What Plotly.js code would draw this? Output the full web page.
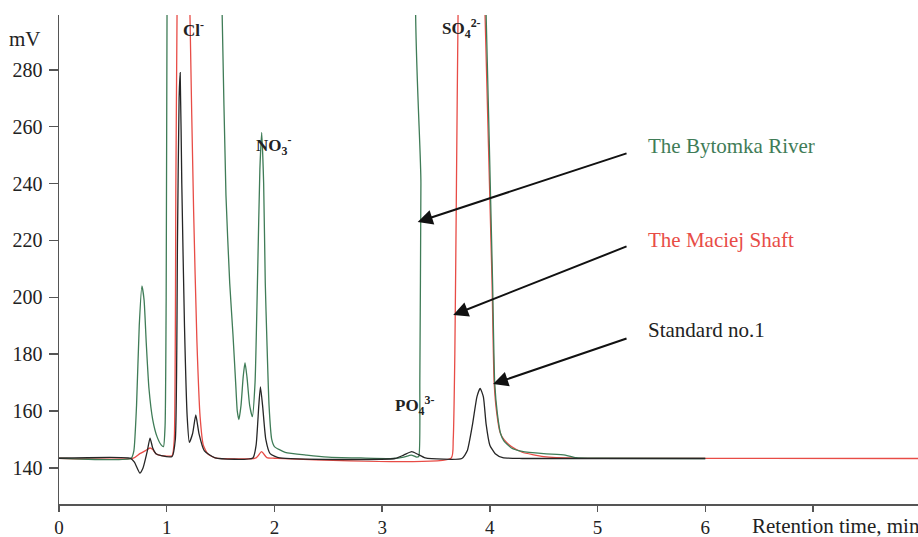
<!DOCTYPE html>
<html>
<head>
<meta charset="utf-8">
<script src="https://cdn.plot.ly/plotly-3.0.1.min.js"></script>
<style>html,body{margin:0;padding:0;background:#fff;}#chart{width:918px;height:537px;}</style>
</head>
<body>
<div id="chart"></div>
<script>
// Retention time (min) and signal (mV); values above the axis top are off-scale peaks
const riverTime = [0, 0.67, 0.695, 0.72, 0.745, 0.77, 0.79, 0.81, 0.835, 0.87, 0.91, 0.95, 0.97, 0.985, 0.995, 1.003, 1.01, 1.5, 1.515, 1.55, 1.585, 1.615, 1.64, 1.655, 1.67, 1.69, 1.71, 1.727, 1.745, 1.77, 1.795, 1.82, 1.845, 1.865, 1.882, 1.9, 1.915, 1.93, 1.95, 1.975, 2.0, 2.1, 2.3, 2.5, 2.8, 3.1, 3.2, 3.27, 3.32, 3.34, 3.35, 3.36, 3.37, 3.94, 3.965, 4.025, 4.045, 4.07, 4.1, 4.13, 4.2, 4.3, 4.5, 4.7, 4.8, 5.0, 6.0];
const riverMV   = [143.4, 143.4, 146, 162, 190, 204, 199, 184, 168, 157, 151, 148, 147.5, 155, 200, 300, 330, 330, 299, 236, 205, 187, 170, 160, 157, 162, 172, 177, 172, 162, 158, 170, 210, 245, 258, 240, 205, 185, 162, 150, 147.5, 145.5, 144.5, 143.8, 143.5, 143.3, 143.8, 144.5, 143.8, 144, 170, 240, 330, 330, 300, 206, 170, 159, 152, 149.5, 147, 145.8, 145, 144.5, 143.6, 143.4, 143.3];

const shaftTime = [0, 0.69, 0.75, 0.8, 0.845, 0.87, 0.9, 0.95, 1.05, 1.07, 1.085, 1.096, 1.105, 1.21, 1.216, 1.25, 1.28, 1.31, 1.34, 1.38, 1.45, 1.83, 1.88, 1.93, 2.0, 3.64, 3.66, 3.675, 3.69, 3.705, 3.72, 3.94, 3.955, 4.02, 4.04, 4.065, 4.095, 4.13, 4.2, 4.3, 4.5, 4.8, 7.975];
const shaftMV   = [143.4, 143.4, 145, 146, 147, 146.5, 145, 144.3, 144.3, 150, 240, 300, 330, 330, 299, 230, 185, 158, 148, 145, 143.5, 143.5, 145.7, 143.6, 143.4, 143.4, 150, 180, 240, 300, 330, 330, 300, 206, 170, 159, 152.5, 150, 147.5, 145.5, 144, 143.4, 143.3];

const standardTime = [0, 0.66, 0.7, 0.75, 0.78, 0.82, 0.845, 0.87, 0.9, 0.95, 1.05, 1.08, 1.1, 1.115, 1.125, 1.14, 1.165, 1.19, 1.21, 1.24, 1.27, 1.3, 1.35, 1.45, 1.8, 1.83, 1.855, 1.87, 1.89, 1.92, 1.96, 2.05, 3.12, 3.2, 3.275, 3.33, 3.4, 3.74, 3.79, 3.84, 3.88, 3.91, 3.94, 3.965, 4.0, 4.05, 4.12, 4.3, 6.0];
const standardMV   = [143.4, 143.4, 142, 138.2, 140, 146, 150.5, 147, 145, 144.3, 144, 150, 220, 270, 279, 240, 190, 158, 149, 152, 158.6, 152, 146, 143.5, 143.5, 148, 162, 168.5, 162, 150, 145, 143.5, 143.3, 144.5, 145.7, 144.8, 143.5, 143.3, 146, 155.5, 165, 168, 165, 155.5, 148, 145, 143.6, 143.3, 143.3];

const seriesNames = ['The Maciej Shaft', 'The Bytomka River', 'Standard no.1'];
const xTickVals = [0, 1, 2, 3, 4, 5, 6, 7];
const xTickText = ['0', '1', '2', '3', '4', '5', '6', ' '];
const yTickVals = [140, 160, 180, 200, 220, 240, 260, 280];

const GREEN = '#3f7c57', RED = '#e84c46', BLACK = '#262626';
const SERIF = 'Liberation Serif';

const traces = [
  {x: shaftTime, y: shaftMV, name: seriesNames[0], mode: 'lines', line: {color: RED, width: 1.3, shape: 'spline', smoothing: 0.5}},
  {x: riverTime, y: riverMV, name: seriesNames[1], mode: 'lines', line: {color: GREEN, width: 1.3, shape: 'spline', smoothing: 0.5}},
  {x: standardTime, y: standardMV, name: seriesNames[2], mode: 'lines', line: {color: BLACK, width: 1.3, shape: 'spline', smoothing: 0.5}}
];

const ionFont = {family: SERIF, size: 17, color: '#222', weight: 'bold'};
const labelFont = (c) => ({family: SERIF, size: 21, color: c});
const arrowStyle = {xref: 'x', yref: 'y', axref: 'x', ayref: 'y', text: '', showarrow: true, arrowhead: 2, arrowsize: 1.5, arrowwidth: 2, arrowcolor: '#111'};

const annotations = [
  {x: 1.25, y: 294.5, xref: 'x', yref: 'y', text: '<b>Cl<sup>-</sup></b>', showarrow: false, font: ionFont},
  {x: 1.99, y: 253.5, xref: 'x', yref: 'y', text: '<b>NO<sub>3</sub><sup>-</sup></b>', showarrow: false, font: ionFont},
  {x: 3.74, y: 294.5, xref: 'x', yref: 'y', text: '<b>SO<sub>4</sub><sup>2-</sup></b>', showarrow: false, font: ionFont},
  {x: 3.305, y: 162, xref: 'x', yref: 'y', text: '<b>PO<sub>4</sub><sup>3-</sup></b>', showarrow: false, font: ionFont},
  {x: 5.45, y: 253.3, xref: 'x', yref: 'y', xanchor: 'left', text: seriesNames[1], showarrow: false, font: labelFont(GREEN)},
  {x: 5.45, y: 220.2, xref: 'x', yref: 'y', xanchor: 'left', text: seriesNames[0], showarrow: false, font: labelFont(RED)},
  {x: 5.45, y: 188.5, xref: 'x', yref: 'y', xanchor: 'left', text: seriesNames[2], showarrow: false, font: labelFont('#222')},
  Object.assign({x: 3.33, y: 226.5, ax: 5.283, ay: 250.8}, arrowStyle),
  Object.assign({x: 3.66, y: 193.8, ax: 5.283, ay: 218.1}, arrowStyle),
  Object.assign({x: 4.03, y: 169.5, ax: 5.283, ay: 185.7}, arrowStyle),
  {x: -0.0186, y: 0.95, xref: 'paper', yref: 'paper', xanchor: 'right', yanchor: 'middle', text: 'mV', showarrow: false, font: {family: SERIF, size: 21, color: '#222'}},
  {x: 0.804, y: -0.045, xref: 'paper', yref: 'paper', xanchor: 'left', yanchor: 'middle', text: 'Retention time, min', showarrow: false, font: {family: SERIF, size: 21, color: '#222'}}
];

const layout = {
  width: 918, height: 537,
  margin: {l: 59, r: 0, t: 15, b: 33, pad: 0},
  paper_bgcolor: '#fff', plot_bgcolor: '#fff',
  showlegend: false,
  xaxis: {
    range: [0, 7.975], showgrid: false, zeroline: false,
    showline: true, linecolor: '#555', linewidth: 1.5,
    ticks: 'outside', ticklen: 6, tickwidth: 1.5, tickcolor: '#555',
    tickvals: xTickVals, ticktext: xTickText,
    tickfont: {family: SERIF, size: 19, color: '#222'}
  },
  yaxis: {
    range: [127.3, 299.3], showgrid: false, zeroline: false,
    showline: true, linecolor: '#555', linewidth: 1.5,
    ticks: 'outside', ticklen: 9, tickwidth: 1.5, tickcolor: '#555',
    tickvals: yTickVals, ticklabelstandoff: 2,
    tickfont: {family: SERIF, size: 20, color: '#222'}
  },
  annotations: annotations
};

Plotly.newPlot('chart', traces, layout, {displayModeBar: false, staticPlot: true});
</script>
</body>
</html>
